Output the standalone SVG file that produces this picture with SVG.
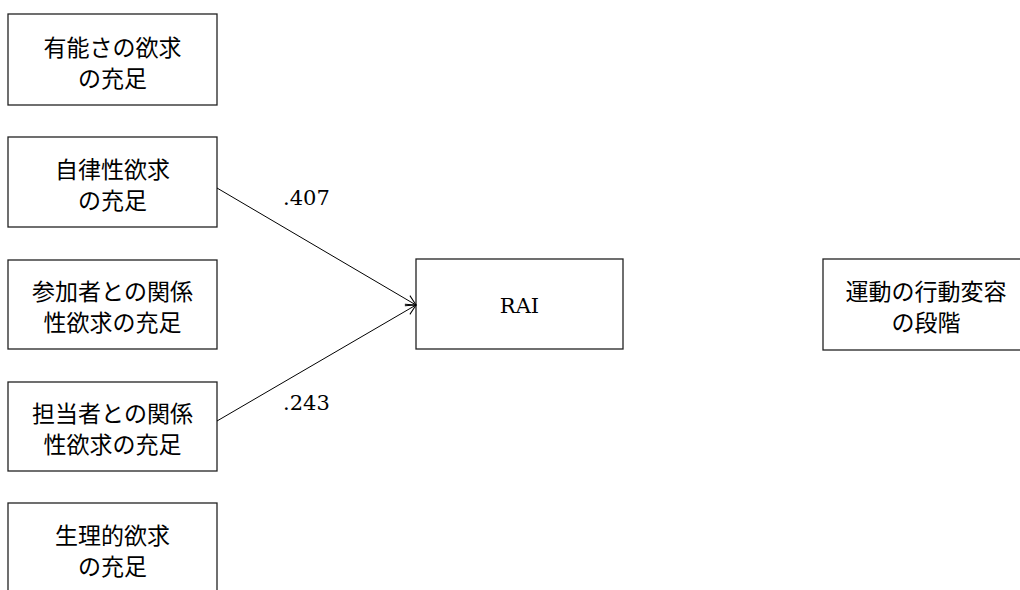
<svg xmlns="http://www.w3.org/2000/svg" width="1020" height="590" viewBox="0 0 1020 590">
<defs>
<style>
.box{fill:#fff;stroke:#222;stroke-width:1.3}
.jp{font-family:"Noto Sans CJK JP","Noto Sans CJK SC",sans-serif;font-size:23px;text-anchor:middle;fill:#000}
.lat{font-family:"DejaVu Serif","Liberation Serif",serif;font-size:21px;fill:#000}
.edge{stroke:#000;stroke-width:1;fill:none}
</style>
<marker id="arr" viewBox="0 0 12 12" refX="11" refY="6" markerWidth="12" markerHeight="12" markerUnits="userSpaceOnUse" orient="auto">
<path d="M1,1 L11,6 L1,11" fill="none" stroke="#000" stroke-width="1"/>
</marker>
</defs>
<rect width="1020" height="590" fill="#fff"/>
<g id="n1"><rect class="box" x="8" y="14" width="209" height="91"/><text class="jp" x="112.5" y="56">有能さの欲求</text><text class="jp" x="112.5" y="87">の充足</text></g>
<g id="n2"><rect class="box" x="8" y="137" width="209" height="90"/><text class="jp" x="112.5" y="178">自律性欲求</text><text class="jp" x="112.5" y="209">の充足</text></g>
<g id="n3"><rect class="box" x="8" y="260" width="209" height="89"/><text class="jp" x="112.5" y="300">参加者との関係</text><text class="jp" x="112.5" y="331">性欲求の充足</text></g>
<g id="n4"><rect class="box" x="8" y="382" width="209" height="89"/><text class="jp" x="112.5" y="422">担当者との関係</text><text class="jp" x="112.5" y="453">性欲求の充足</text></g>
<g id="n5"><rect class="box" x="8" y="503" width="209" height="92"/><text class="jp" x="112.5" y="544">生理的欲求</text><text class="jp" x="112.5" y="575">の充足</text></g>
<g id="rai"><rect class="box" x="416" y="259" width="207" height="90"/><text class="lat" x="519.5" y="313" text-anchor="middle">RAI</text></g>
<g id="stage"><rect class="box" x="823" y="259" width="206" height="91"/><text class="jp" x="926" y="300">運動の行動変容</text><text class="jp" x="926" y="331">の段階</text></g>
<g id="connectors">
<line class="edge" x1="217" y1="188" x2="416" y2="305" marker-end="url(#arr)"/>
<line class="edge" x1="217" y1="421" x2="416" y2="305" marker-end="url(#arr)"/>
<text class="lat" x="283" y="205">.407</text>
<text class="lat" x="283" y="410">.243</text>
</g>
</svg>
